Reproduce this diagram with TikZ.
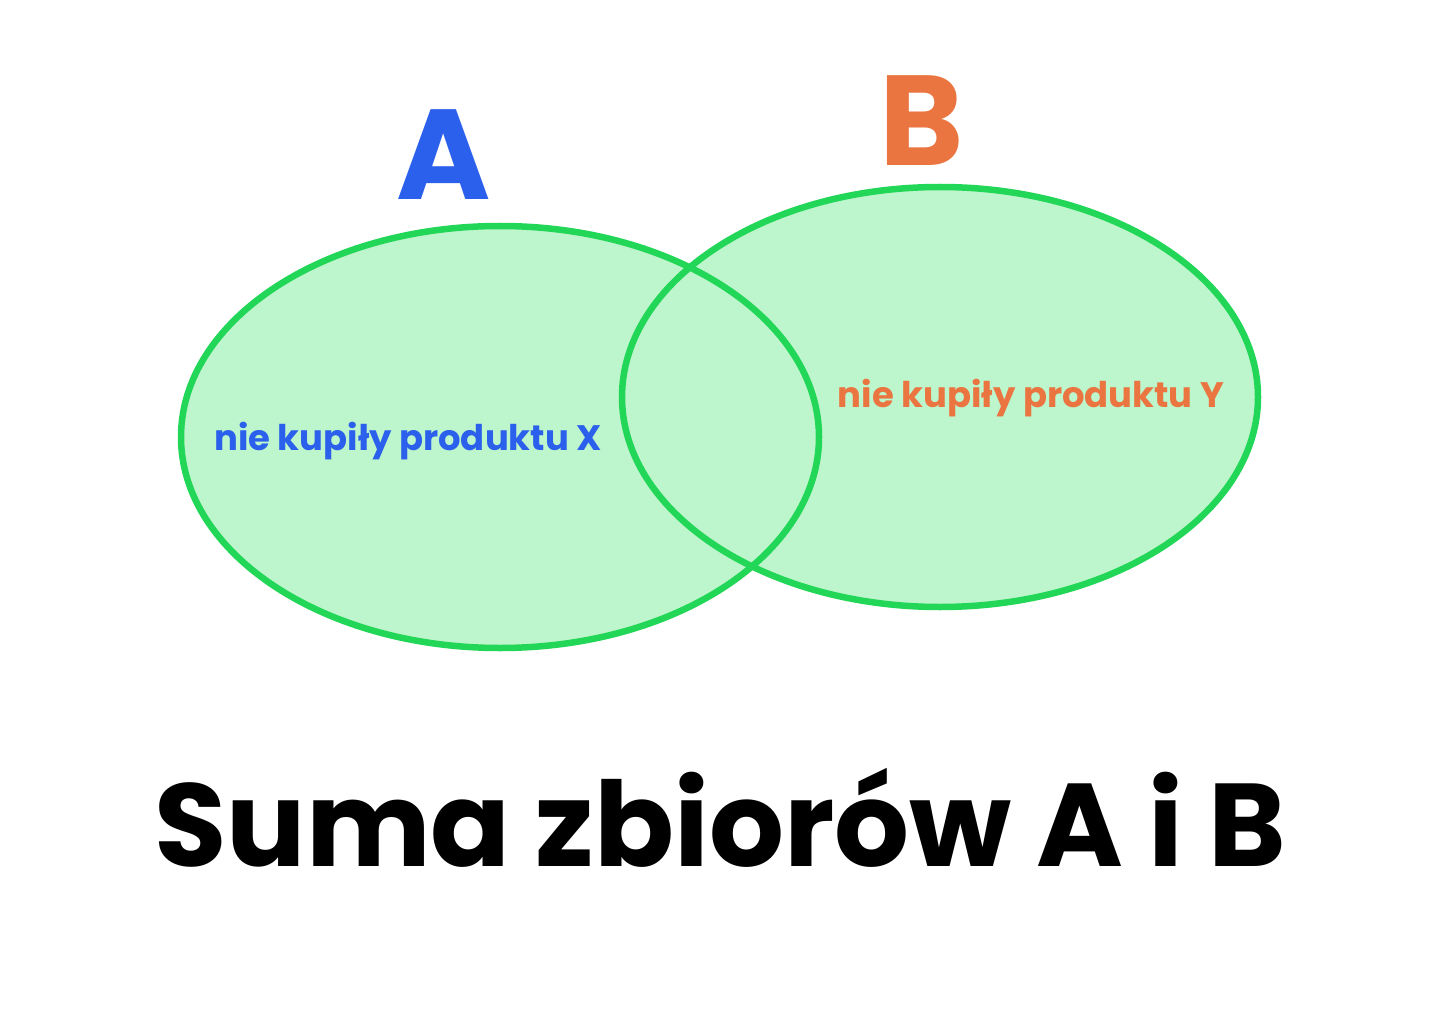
\documentclass[tikz,border=0pt]{standalone}
\usepackage{fontspec}
\setmainfont{Poppins}[BoldFont={* Bold}]
\definecolor{vfill}{HTML}{BDF5CC}
\definecolor{vline}{HTML}{22D658}
\definecolor{ablue}{HTML}{2B60EC}
\definecolor{borange}{HTML}{EA7540}
\tikzset{
  setline/.style={draw=vline, line width=6.5pt},
  setfill/.style={fill=vfill},
  lbl/.style={font=\fontsize{35.4}{38}\selectfont\bfseries, inner sep=0pt, anchor=base},
  big/.style={font=\fontsize{128}{130}\selectfont\bfseries, inner sep=0pt, anchor=base},
}
\begin{document}
\begin{tikzpicture}[x=1pt,y=-1pt]
\useasboundingbox[fill=white] (0,0) rectangle (1440,1024);
\coordinate (ca) at (500,437);
\coordinate (cb) at (940,397);
\fill[setfill] (ca) ellipse [x radius=319, y radius=211];
\fill[setfill] (cb) ellipse [x radius=318, y radius=210];
\draw[setline] (ca) ellipse [x radius=319, y radius=211];
\draw[setline] (cb) ellipse [x radius=318, y radius=210];
\node[big, text=ablue] (la) at (444,200) {A};
\node[big, text=borange] (lb) at (922,166) {B};
\node[lbl, text=ablue] (tx) at (408,450) {nie kupiły produktu X};
\node[lbl, text=borange] (ty) at (1031,407) {nie kupiły produktu Y};
\node[font=\fontsize{117.8}{120}\selectfont\bfseries, inner sep=0pt, anchor=base] (title) at (720,866) {Suma zbiorów A i B};
\end{tikzpicture}
\end{document}
